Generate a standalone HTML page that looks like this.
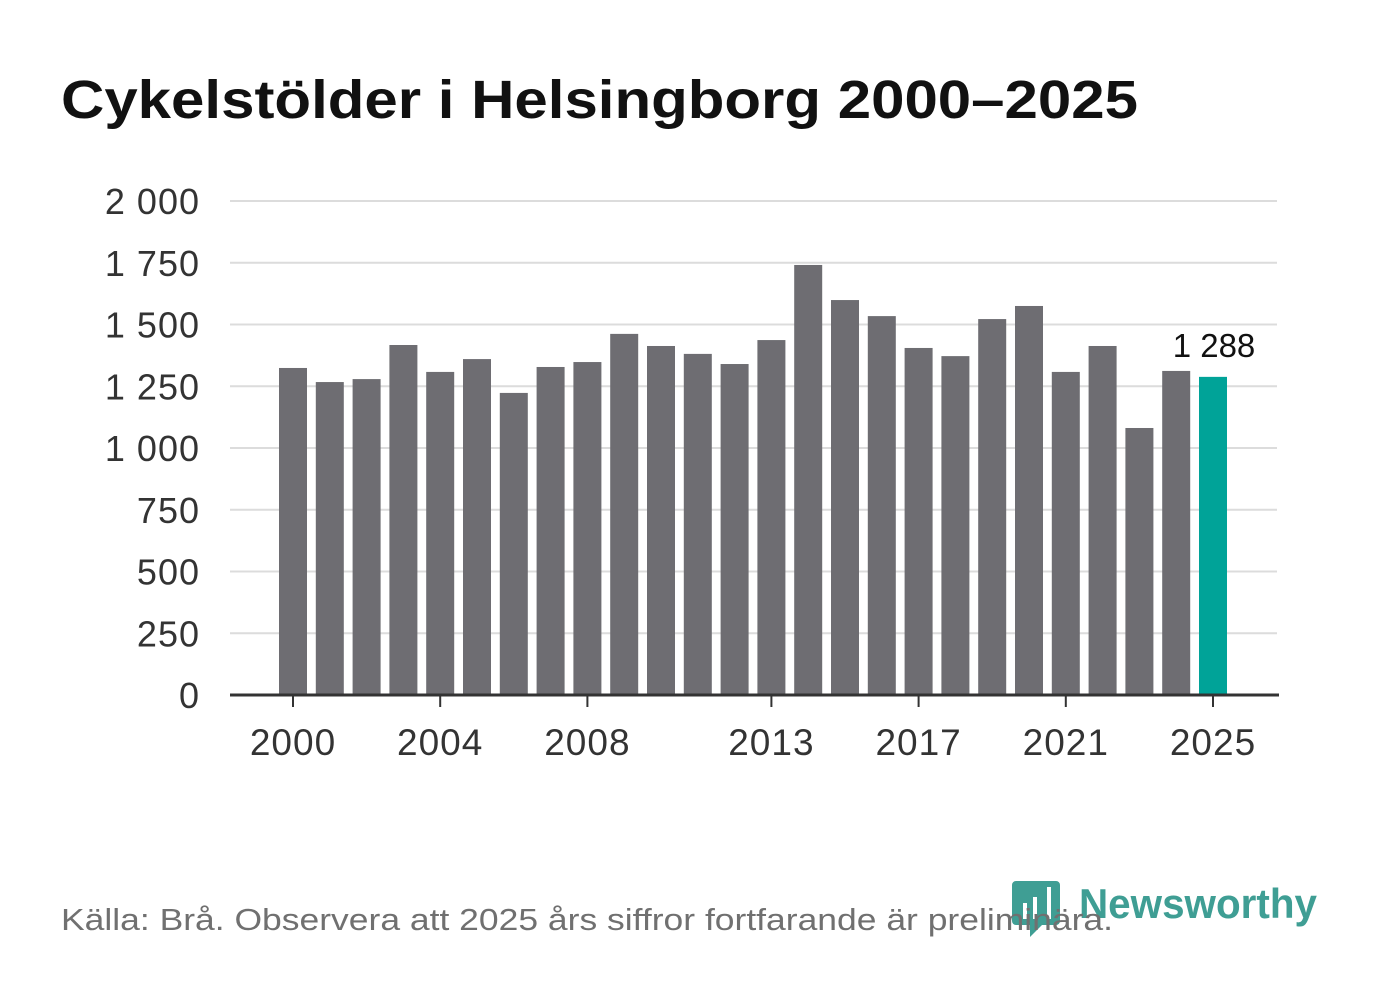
<!DOCTYPE html>
<html><head><meta charset="utf-8"><style>
body{margin:0;background:#fff;width:1382px;height:999px;overflow:hidden;font-family:"Liberation Sans",sans-serif}
</style></head><body>
<svg width="1382" height="999">
<text x="61" y="118" font-size="54" font-weight="bold" fill="#111" textLength="1077" lengthAdjust="spacingAndGlyphs">Cykelstölder i Helsingborg 2000–2025</text>
<g id="grid"></g><g id="bars"></g><g id="xaxis"></g>
<g>
<path d="M1016 881 h40 a4 4 0 0 1 4 4 v36 a4 4 0 0 1 -4 4 h-14 l-12 12 v-12 h-14 a4 4 0 0 1 -4 -4 v-36 a4 4 0 0 1 4 -4z" fill="#3f9e94"/>
<rect x="1023" y="903" width="4" height="16" fill="#fff"/><rect x="1033" y="897" width="4" height="22" fill="#fff"/><rect x="1047" y="887" width="4" height="32" fill="#fff"/>
<text x="1079" y="918" font-size="42" font-weight="bold" fill="#3f9e94" textLength="238" lengthAdjust="spacingAndGlyphs">Newsworthy</text>
</g>
<text x="61" y="930" font-size="31" fill="#707070" textLength="1052" lengthAdjust="spacingAndGlyphs">Källa: Brå. Observera att 2025 års siffror fortfarande är preliminära.</text>
</svg>
<script>
const years=[2000,2001,2002,2003,2004,2005,2006,2007,2008,2009,2010,2011,2012,2013,2014,2015,2016,2017,2018,2019,2020,2021,2022,2023,2024,2025];
const values=[1324,1267,1279,1417,1308,1360,1223,1328,1348,1462,1413,1381,1340,1437,1741,1599,1534,1405,1372,1522,1575,1308,1413,1081,1312,1288];
const yTicks=[0,250,500,750,1000,1250,1500,1750,2000];
const yTickLabels=["0","250","500","750","1 000","1 250","1 500","1 750","2 000"];
const xTicks=[2000,2004,2008,2013,2017,2021,2025];
const NS="http://www.w3.org/2000/svg";
const y=v=>695-v*494/2000, x=yr=>293+(yr-2000)*36.8;
function mk(p,t,a,txt){const e=document.createElementNS(NS,t);for(const k in a)e.setAttribute(k,a[k]);if(txt!=null)e.textContent=txt;document.getElementById(p).appendChild(e);return e;}
yTicks.forEach((v,i)=>{
 if(v>0){const l=mk('grid','line',{x1:230,x2:1277,y1:y(v),y2:y(v),stroke:'#dcdcdc','stroke-width':2});
 
 }
 const t=mk('grid','text',{x:200,y:y(v)+13,'font-size':36,fill:'#333','text-anchor':'end','letter-spacing':1},yTickLabels[i]);
 
 
});
years.forEach((yr,i)=>{
 const last=i===years.length-1;
 const r=mk('bars','rect',{x:x(yr)-14,y:y(values[i]),width:28,height:695-y(values[i]),fill:last?'#00a398':'#6e6d72'});
 
 
 if(last){const t=mk('bars','text',{x:x(yr)+1,y:y(values[i])-20,'font-size':33,fill:'#111','text-anchor':'middle'},values[i].toLocaleString('sv-SE').replace(/\s/g,' '));
 
 }
});
const ax=mk('xaxis','line',{x1:230,x2:1279,y1:695,y2:695,stroke:'#333','stroke-width':3});


xTicks.forEach(yr=>{
 const tk=mk('xaxis','line',{x1:x(yr),x2:x(yr),y1:695,y2:707,stroke:'#333','stroke-width':2});
 
 
 const t=mk('xaxis','text',{x:x(yr),y:755,'font-size':37,fill:'#333','text-anchor':'middle','letter-spacing':1},yr);
 
 
});
</script>
</body></html>
